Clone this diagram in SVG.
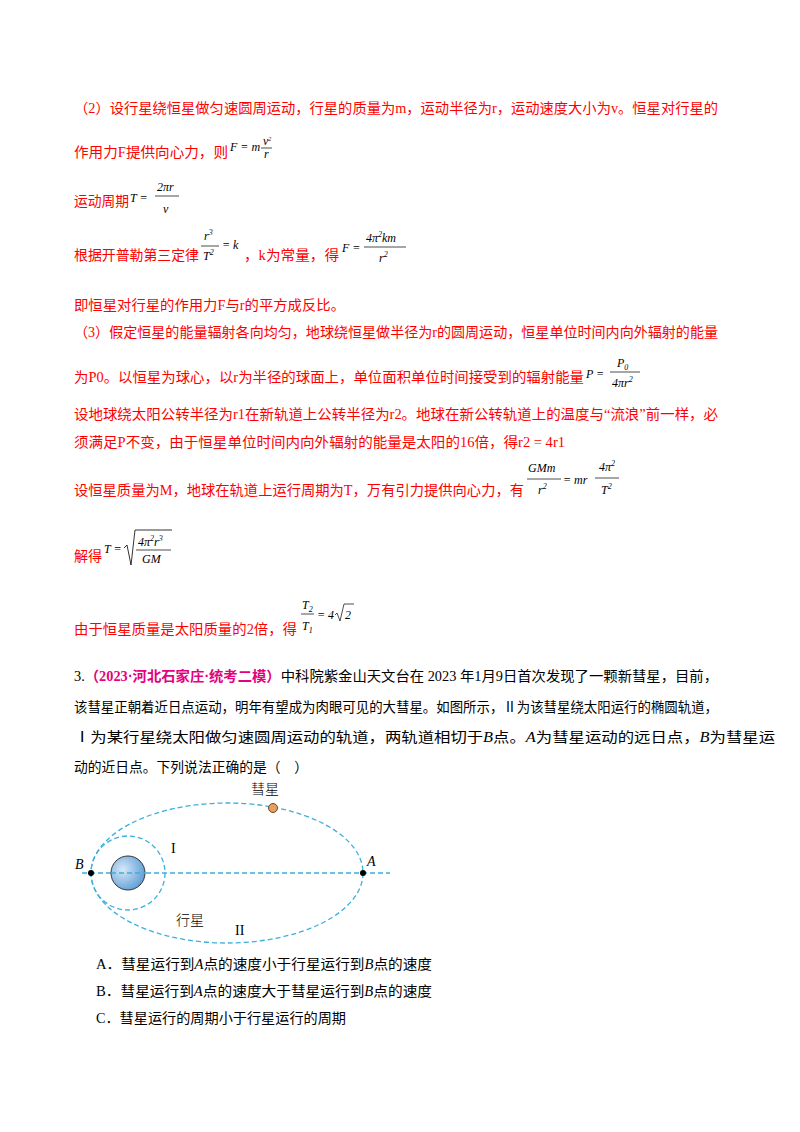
<svg xmlns="http://www.w3.org/2000/svg" width="800" height="1132" viewBox="0 0 800 1132">
<defs>
<style>
.r{fill:#f00;font-family:"Liberation Serif","Noto Sans CJK SC",serif;font-size:14px}
.k{fill:#000;font-family:"Liberation Serif","Noto Sans CJK SC",serif;font-size:14px}
.m{fill:#000;font-family:"Liberation Serif",serif;font-style:italic;font-size:12px}
.s{font-size:8px}
.fl{stroke:#000;stroke-width:0.7}
.d{fill:none;stroke:#3bb0dc;stroke-width:1.3;stroke-dasharray:5,3}
</style>
<radialGradient id="sun" cx="0.35" cy="0.4" r="0.7"><stop offset="0" stop-color="#d6e8f8"/><stop offset="1" stop-color="#5b9bd5"/></radialGradient>
</defs>
<rect width="800" height="1132" fill="#fff"/>
<g id="text">
<text class="r" x="74" y="113" textLength="644" lengthAdjust="spacingAndGlyphs">（2）设行星绕恒星做匀速圆周运动，行星的质量为m，运动半径为r，运动速度大小为v。恒星对行星的</text>
<text class="r" x="74" y="157" textLength="154" lengthAdjust="spacingAndGlyphs">作用力F提供向心力，则</text>
<text class="m" x="230" y="151" font-size="9">F = m</text>
<line class="fl" x1="261" y1="148" x2="272" y2="148"/>
<text class="m" x="263" y="145" font-size="9">v<tspan dy="-4" font-size="6">2</tspan></text>
<text class="m" x="264" y="158" font-size="9">r</text>
<text class="r" x="74" y="206" textLength="55" lengthAdjust="spacingAndGlyphs">运动周期</text>
<text class="m" x="130" y="202" font-size="14">T =</text>
<line class="fl" x1="155" y1="196" x2="179" y2="196"/>
<text class="m" x="157" y="191" font-size="14">2πr</text>
<text class="m" x="163" y="213" font-size="14">v</text>
<text class="r" x="74" y="260" textLength="125" lengthAdjust="spacingAndGlyphs">根据开普勒第三定律</text>
<text class="m" x="204" y="240">r<tspan class="s" dy="-5">3</tspan></text>
<line class="fl" x1="201" y1="246" x2="219" y2="246"/>
<text class="m" x="203" y="260">T<tspan class="s" dy="-5">2</tspan></text>
<text class="m" x="222" y="249">= k</text>
<text class="r" x="244" y="260" textLength="95" lengthAdjust="spacingAndGlyphs">，k为常量，得</text>
<text class="m" x="342" y="252">F =</text>
<text class="m" x="366" y="242">4π<tspan class="s" dy="-5">2</tspan><tspan dy="5">km</tspan></text>
<line class="fl" x1="364" y1="247" x2="406" y2="247"/>
<text class="m" x="379" y="262">r<tspan class="s" dy="-5">2</tspan></text>
<text class="r" x="74" y="310" textLength="271" lengthAdjust="spacingAndGlyphs">即恒星对行星的作用力F与r的平方成反比。</text>
<text class="r" x="74" y="337" textLength="644" lengthAdjust="spacingAndGlyphs">（3）假定恒星的能量辐射各向均匀，地球绕恒星做半径为r的圆周运动，恒星单位时间内向外辐射的能量</text>
<text class="r" x="74" y="382" textLength="510" lengthAdjust="spacingAndGlyphs">为P0。以恒星为球心，以r为半径的球面上，单位面积单位时间接受到的辐射能量</text>
<text class="m" x="586" y="378" font-size="13">P =</text>
<text class="m" x="617" y="367">P<tspan class="s" dy="3">0</tspan></text>
<line class="fl" x1="610" y1="372" x2="640" y2="372"/>
<text class="m" x="612" y="387">4πr<tspan class="s" dy="-5">2</tspan></text>
<text class="r" x="74" y="419" textLength="644" lengthAdjust="spacingAndGlyphs">设地球绕太阳公转半径为r1在新轨道上公转半径为r2。地球在新公转轨道上的温度与“流浪”前一样，必</text>
<text class="r" x="74" y="447" textLength="491" lengthAdjust="spacingAndGlyphs">须满足P不变，由于恒星单位时间内向外辐射的能量是太阳的16倍，得r2 = 4r1</text>
<text class="r" x="74" y="495" textLength="450" lengthAdjust="spacingAndGlyphs">设恒星质量为M，地球在轨道上运行周期为T，万有引力提供向心力，有</text>
<text class="m" x="528" y="472">GMm</text>
<line class="fl" x1="527" y1="479" x2="561" y2="479"/>
<text class="m" x="538" y="494">r<tspan class="s" dy="-5">2</tspan></text>
<text class="m" x="563" y="484">= mr</text>
<text class="m" x="599" y="471">4π<tspan class="s" dy="-5">2</tspan></text>
<line class="fl" x1="595" y1="478" x2="619" y2="478"/>
<text class="m" x="601" y="494">T<tspan class="s" dy="-5">2</tspan></text>
<text class="r" x="74" y="561" textLength="28" lengthAdjust="spacingAndGlyphs">解得</text>
<text class="m" x="104" y="553" font-size="13">T =</text>
<path d="M124 548 L127 545 L131 565 L135 530 L172 530" fill="none" stroke="#000" stroke-width="0.8"/>
<text class="m" x="138" y="546">4π<tspan class="s" dy="-5">2</tspan><tspan dy="5">r</tspan><tspan class="s" dy="-5">3</tspan></text>
<line class="fl" x1="136" y1="550" x2="171" y2="550"/>
<text class="m" x="142" y="563">GM</text>
<text class="r" x="74" y="634" textLength="223" lengthAdjust="spacingAndGlyphs">由于恒星质量是太阳质量的2倍，得</text>
<text class="m" x="302" y="609">T<tspan class="s" dy="3">2</tspan></text>
<line class="fl" x1="301" y1="614" x2="314" y2="614"/>
<text class="m" x="302" y="630">T<tspan class="s" dy="3">1</tspan></text>
<text class="m" x="317" y="619" font-style="normal">= 4</text>
<path d="M335 615 L337 613 L340 621 L344 604 L354 604" fill="none" stroke="#000" stroke-width="0.7"/>
<text class="m" x="345" y="619" font-style="normal">2</text>
<text class="k" x="74" y="681" textLength="644" lengthAdjust="spacingAndGlyphs">3.<tspan fill="#e4007f" font-weight="bold">（2023·河北石家庄·统考二模）</tspan>中科院紫金山天文台在 2023 年1月9日首次发现了一颗新彗星，目前，</text>
<text class="k" x="74" y="712" textLength="644" lengthAdjust="spacingAndGlyphs">该彗星正朝着近日点运动，明年有望成为肉眼可见的大彗星。如图所示，Ⅱ为该彗星绕太阳运行的椭圆轨道，</text>
<text class="k" x="74" y="742" textLength="701" lengthAdjust="spacingAndGlyphs">Ⅰ为某行星绕太阳做匀速圆周运动的轨道，两轨道相切于<tspan font-style="italic">B</tspan>点。<tspan font-style="italic">A</tspan>为彗星运动的远日点，<tspan font-style="italic">B</tspan>为彗星运</text>
<text class="k" x="74" y="772" textLength="234" lengthAdjust="spacingAndGlyphs">动的近日点。下列说法正确的是（　）</text>
<text class="k" x="96" y="969" textLength="336" lengthAdjust="spacingAndGlyphs">A．彗星运行到<tspan font-style="italic">A</tspan>点的速度小于行星运行到<tspan font-style="italic">B</tspan>点的速度</text>
<text class="k" x="96" y="996" textLength="336" lengthAdjust="spacingAndGlyphs">B．彗星运行到<tspan font-style="italic">A</tspan>点的速度大于彗星运行到<tspan font-style="italic">B</tspan>点的速度</text>
<text class="k" x="96" y="1023" textLength="250" lengthAdjust="spacingAndGlyphs">C．彗星运行的周期小于行星运行的周期</text>
</g>
<g id="figure">
<ellipse class="d" cx="227" cy="873" rx="136" ry="70"/>
<circle class="d" cx="128" cy="873" r="37"/>
<line class="d" x1="82" y1="873" x2="390" y2="873"/>
<circle cx="128" cy="873" r="17" fill="url(#sun)" stroke="#333" stroke-width="1"/>
<line class="d" x1="111" y1="873" x2="145" y2="873"/>
<circle cx="91" cy="873" r="3" fill="#000"/>
<circle cx="363" cy="873" r="3" fill="#000"/>
<circle cx="273" cy="808" r="4.5" fill="#e8a060" stroke="#6b4a2a" stroke-width="1"/>
<text class="k" x="251" y="794" font-size="19" font-family="Noto Sans CJK SC,sans-serif" font-weight="300">彗星</text>
<text class="k" x="75" y="869" font-size="20" font-style="italic">B</text>
<text class="k" x="367" y="866" font-size="20" font-style="italic">A</text>
<text class="k" x="171" y="853" font-size="23">I</text>
<text class="k" x="176" y="925" font-size="19" font-family="Noto Sans CJK SC,sans-serif" font-weight="300">行星</text>
<text class="k" x="235" y="935" font-size="23">II</text>
</g>
</svg>
